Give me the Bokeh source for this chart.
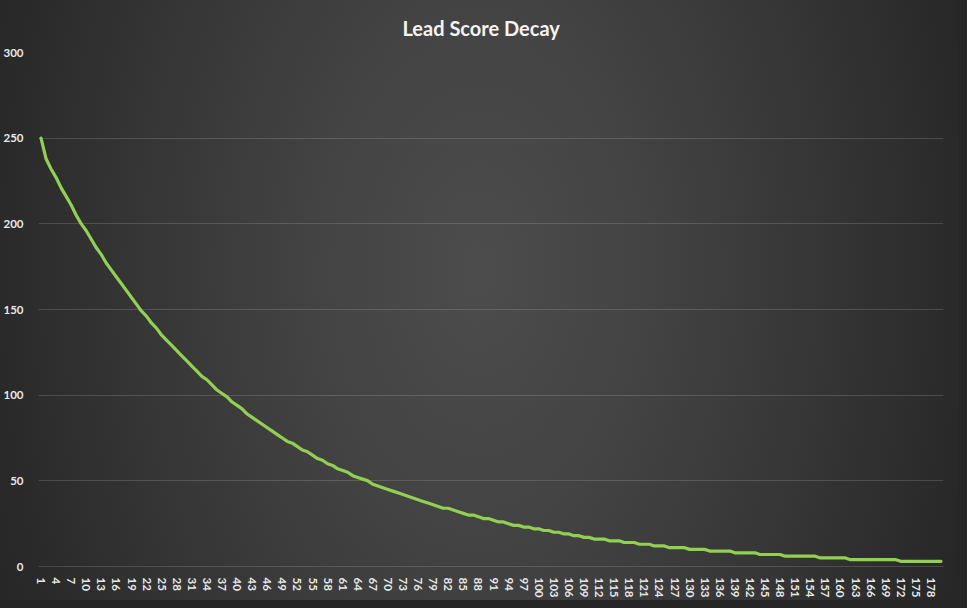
from bokeh.plotting import figure
from bokeh.models import Range1d, FixedTicker
from bokeh.embed import file_html
from bokeh.resources import INLINE

# ---- data ----
days = list(range(1, 181))
score = [
    250,
    238, 232, 227, 221, 216, 211, 205, 200, 196, 191,
    186, 182, 177, 173, 169, 165, 161, 157, 153, 149,
    146, 142, 139, 135, 132, 129, 126, 123, 120, 117,
    114, 111, 109, 106, 103, 101, 99, 96, 94, 92,
    89, 87, 85, 83, 81, 79, 77, 75, 73, 72,
    70, 68, 67, 65, 63, 62, 60, 59, 57, 56,
    55, 53, 52, 51, 50, 48, 47, 46, 45, 44,
    43, 42, 41, 40, 39, 38, 37, 36, 35, 34,
    34, 33, 32, 31, 30, 30, 29, 28, 28, 27,
    26, 26, 25, 24, 24, 23, 23, 22, 22, 21,
    21, 20, 20, 19, 19, 18, 18, 17, 17, 16,
    16, 16, 15, 15, 15, 14, 14, 14, 13, 13,
    13, 12, 12, 12, 11, 11, 11, 11, 10, 10,
    10, 10, 9, 9, 9, 9, 9, 8, 8, 8,
    8, 8, 7, 7, 7, 7, 7, 6, 6, 6,
    6, 6, 6, 6, 5, 5, 5, 5, 5, 5,
    4, 4, 4, 4, 4, 4, 4, 4, 4, 4,
    3, 3, 3, 3, 3, 3, 3, 3, 3,
]
x_tick_labels = days[::3]
y_tick_labels = [0, 50, 100, 150, 200, 250, 300]
title_text = "Lead Score Decay"

FONT = "Lato"
LABEL_COLOR = "#e8e8e8"

p = figure(
    width=959, height=600,
    output_backend="svg", toolbar_location=None,
    x_range=Range1d(0.5, 180.5), y_range=Range1d(0, 300),
    min_border_left=35, min_border_right=16,
    min_border_top=52, min_border_bottom=32,
)

p.background_fill_alpha = 0
p.border_fill_alpha = 0
p.outline_line_color = None
p.styles = {
    "background": "radial-gradient(ellipse 560px 900px at 50% 45%, "
                  "#4c4c4c 0%, #434343 30%, #363636 60%, #2a2a2a 85%, #232323 100%)",
    "outline": "8px solid #262626",
}

# title
p.title.text = title_text
p.title.text_font = FONT
p.title.text_font_style = "bold"
p.title.text_font_size = "20px"
p.title.text_line_height = 0.9
p.title.text_color = "#f4f4f4"
p.title.align = "left"
p.title.offset = 364
p.title.standoff = 26

# x axis
xa = p.xaxis[0]
xa.ticker = FixedTicker(ticks=x_tick_labels)
xa.major_label_orientation = "vertical"
xa.major_tick_line_color = None
xa.minor_tick_line_color = None
xa.axis_line_color = "white"
xa.axis_line_alpha = 0.15
xa.major_label_text_font = FONT
xa.major_label_text_font_style = "bold"
xa.major_label_text_font_size = "11.5px"
xa.major_label_text_color = LABEL_COLOR
xa.major_label_standoff = 5

# y axis
ya = p.yaxis[0]
ya.ticker = FixedTicker(ticks=y_tick_labels)
ya.major_tick_line_color = None
ya.minor_tick_line_color = None
ya.axis_line_color = None
ya.major_label_text_font = FONT
ya.major_label_text_font_style = "bold"
ya.major_label_text_font_size = "11.5px"
ya.major_label_text_color = LABEL_COLOR
ya.major_label_standoff = 9

# grid
p.xgrid.grid_line_color = None
p.ygrid.ticker = FixedTicker(ticks=y_tick_labels)
p.ygrid.grid_line_color = "white"
p.ygrid.grid_line_alpha = 0.15

# the series
p.line(days, score, line_color="#92D050", line_width=3.2, line_join="round", line_cap="round")

open("out.html", "w").write(file_html(p, INLINE))
